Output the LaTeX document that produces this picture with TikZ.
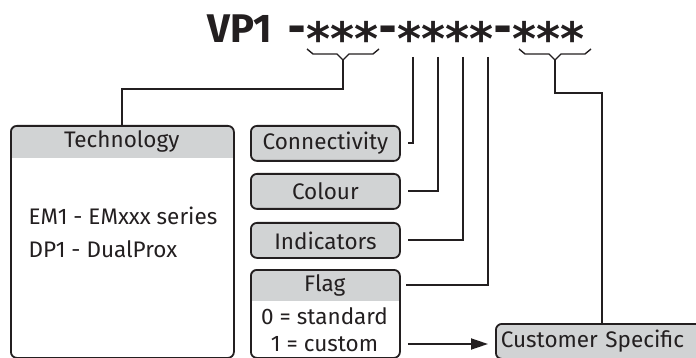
\documentclass[tikz,border=0pt]{standalone}
\usepackage{fontspec}
\setmainfont{Fira Sans}
\newfontfamily\codefont{DejaVu Sans}
\usetikzlibrary{arrows.meta}

\definecolor{ink}{HTML}{231F20}
\definecolor{hdr}{HTML}{D1D3D4}

% lowered asterisk of the part code
\newcommand\codestar{\raisebox{-13pt}{*}}

\tikzset{
  lbl/.style={font=\fontsize{22.5}{26}\selectfont, text=ink},
  tag/.style={draw=ink, line width=1.8pt, fill=hdr, rounded corners=6pt,
    minimum width=149pt, minimum height=35pt, inner sep=0pt,
    anchor=north west, lbl},
  frame/.style={draw=ink, line width=1.8pt, rounded corners=6pt,
    inner sep=0pt, anchor=north west},
  head/.style={inner sep=0pt, anchor=north west, lbl},
  wire/.style={draw=ink, line width=1.8pt},
  brace/.style={draw=ink, line width=1.4pt},
}

\begin{document}
\begin{tikzpicture}[x=1pt,y=-1pt]
  \useasboundingbox (0,0) rectangle (696,358);

  % part number
  \node[anchor=base west, inner sep=0pt, text=ink,
    font=\fontsize{40}{42}\selectfont\bfseries] (vp) at (207,43) {VP1};
  \node[anchor=base west, inner sep=0pt, text=ink,
    font=\codefont\fontsize{46}{48}\selectfont\bfseries] (code) at (287,43)
    {-\codestar\codestar\codestar-\codestar\codestar\codestar\codestar-\codestar\codestar\codestar};

  % braces under the groups
  \draw[brace] (307,49) -- (313,54) -- (337,54) -- (343,60) -- (349,54) -- (373,54) -- (379,49);
  \draw[brace] (519,49) -- (525,54) -- (549,54) -- (555,60) -- (561,54) -- (585,54) -- (591,49);
  \coordinate (grpa) at (343,60);
  \coordinate (grpc) at (555,60);

  % grey headers
  \begin{scope}
    \clip[rounded corners=6pt] (10,125) rectangle (233,357);
    \fill[hdr] (10,125) rectangle (233,158);
  \end{scope}
  \begin{scope}
    \clip[rounded corners=6pt] (250,269) rectangle (399,357);
    \fill[hdr] (250,269) rectangle (399,301);
  \end{scope}

  % technology box
  \node[frame, minimum width=223pt, minimum height=232pt] (tech) at (10,125) {};
  \node[head, minimum width=223pt, minimum height=33pt] (techhead) at (10,125) {Technology};
  \node[lbl, anchor=base west] (em) at (25,225) {EM1 - EMxxx series};
  \node[lbl, anchor=base west] (dp) at (25,257) {DP1 - DualProx};

  % small boxes
  \node[tag] (conn) at (250,125) {Connectivity};
  \node[tag] (colour) at (250,173) {Colour};
  \node[tag] (ind) at (250,222) {Indicators};

  % flag box
  \node[frame, minimum width=149pt, minimum height=88pt] (flag) at (250,269) {};
  \node[head, minimum width=149pt, minimum height=32pt] (flaghead) at (250,269) {Flag};
  \node[lbl, inner sep=0pt] (zero) at (324.5,316) {0 = standard};
  \node[lbl, inner sep=0pt] (one) at (324.5,344) {1 = custom};

  % customer box, runs off the page
  \node[tag, text width=210pt, inner xsep=5pt, align=left, minimum width=0pt] (cust) at (495,323) {Customer Specific};

  % connectors
  \draw[wire] (grpa) -- ++(0,29) -| (techhead.north);
  \draw[wire] (grpc) -- ++(0,33) -| (cust.north -| 602,0);
  \foreach \x/\n in {413/conn,438/colour,463/ind,488/flaghead} {
    \coordinate (drop\n) at (\x,57);
    \draw[wire] (drop\n) |- ([xshift=7pt]\n.east);
  }
  \draw[wire, -{Triangle[length=17pt,width=11pt]}, shorten <=7pt, shorten >=7pt]
    (flag.east |- one) -- (cust.west |- one);
\end{tikzpicture}
\end{document}
